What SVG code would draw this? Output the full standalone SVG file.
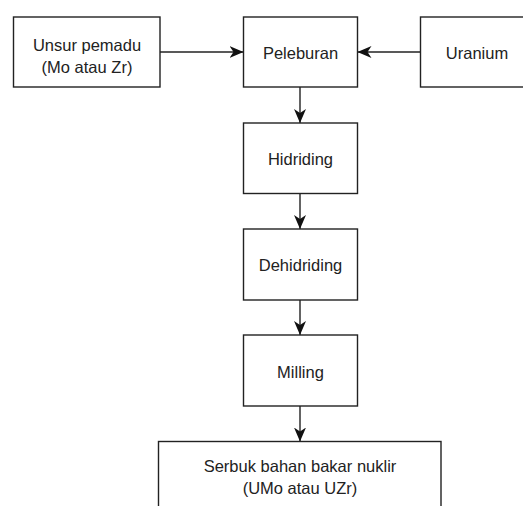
<svg xmlns="http://www.w3.org/2000/svg" width="523" height="506" viewBox="0 0 523 506">
<style>
.box{fill:#fff;stroke:#222;stroke-width:1.4}
.lbl{font-family:"Liberation Sans",Arial,sans-serif;font-size:16.5px;fill:#222;text-anchor:middle}
.edge{stroke:#222;stroke-width:1.4;fill:none;marker-end:url(#arr)}
</style>
<defs>
<marker id="arr" markerUnits="userSpaceOnUse" viewBox="0 0 14 12" refX="14" refY="6" markerWidth="14" markerHeight="12" orient="auto">
<path d="M14,6 L0,0 L4,6 L0,12 Z" fill="#111"/>
</marker>
</defs>
<rect width="523" height="506" fill="#fff"/>
<g id="connectors">
<line class="edge" x1="160" y1="52" x2="243.5" y2="52"/>
<line class="edge" x1="420.5" y1="52" x2="357.5" y2="52"/>
<line class="edge" x1="300" y1="87" x2="300" y2="123"/>
<line class="edge" x1="300" y1="193.5" x2="300" y2="229"/>
<line class="edge" x1="300" y1="300" x2="300" y2="335"/>
<line class="edge" x1="300" y1="406" x2="300" y2="441.5"/>
</g>
<g id="unsur">
<rect class="box" x="13.5" y="17" width="146.5" height="70"/>
<text class="lbl" x="87" y="50.5">Unsur pemadu</text>
<text class="lbl" x="87" y="73">(Mo atau Zr)</text>
</g>
<g id="peleburan">
<rect class="box" x="243.5" y="17" width="114" height="70"/>
<text class="lbl" x="300.5" y="58.5">Peleburan</text>
</g>
<g id="uranium">
<rect class="box" x="420.5" y="17" width="114" height="70"/>
<text class="lbl" x="477" y="58.5">Uranium</text>
</g>
<g id="hidriding">
<rect class="box" x="243.5" y="123" width="114" height="70.5"/>
<text class="lbl" x="300.5" y="165">Hidriding</text>
</g>
<g id="dehidriding">
<rect class="box" x="243.5" y="229" width="114" height="71"/>
<text class="lbl" x="300.5" y="271">Dehidriding</text>
</g>
<g id="milling">
<rect class="box" x="243.5" y="335" width="114" height="71"/>
<text class="lbl" x="300.5" y="378">Milling</text>
</g>
<g id="serbuk">
<rect class="box" x="158.5" y="441.5" width="282.5" height="80"/>
<text class="lbl" x="300" y="471.5">Serbuk bahan bakar nuklir</text>
<text class="lbl" x="300" y="493.5">(UMo atau UZr)</text>
</g>
</svg>
